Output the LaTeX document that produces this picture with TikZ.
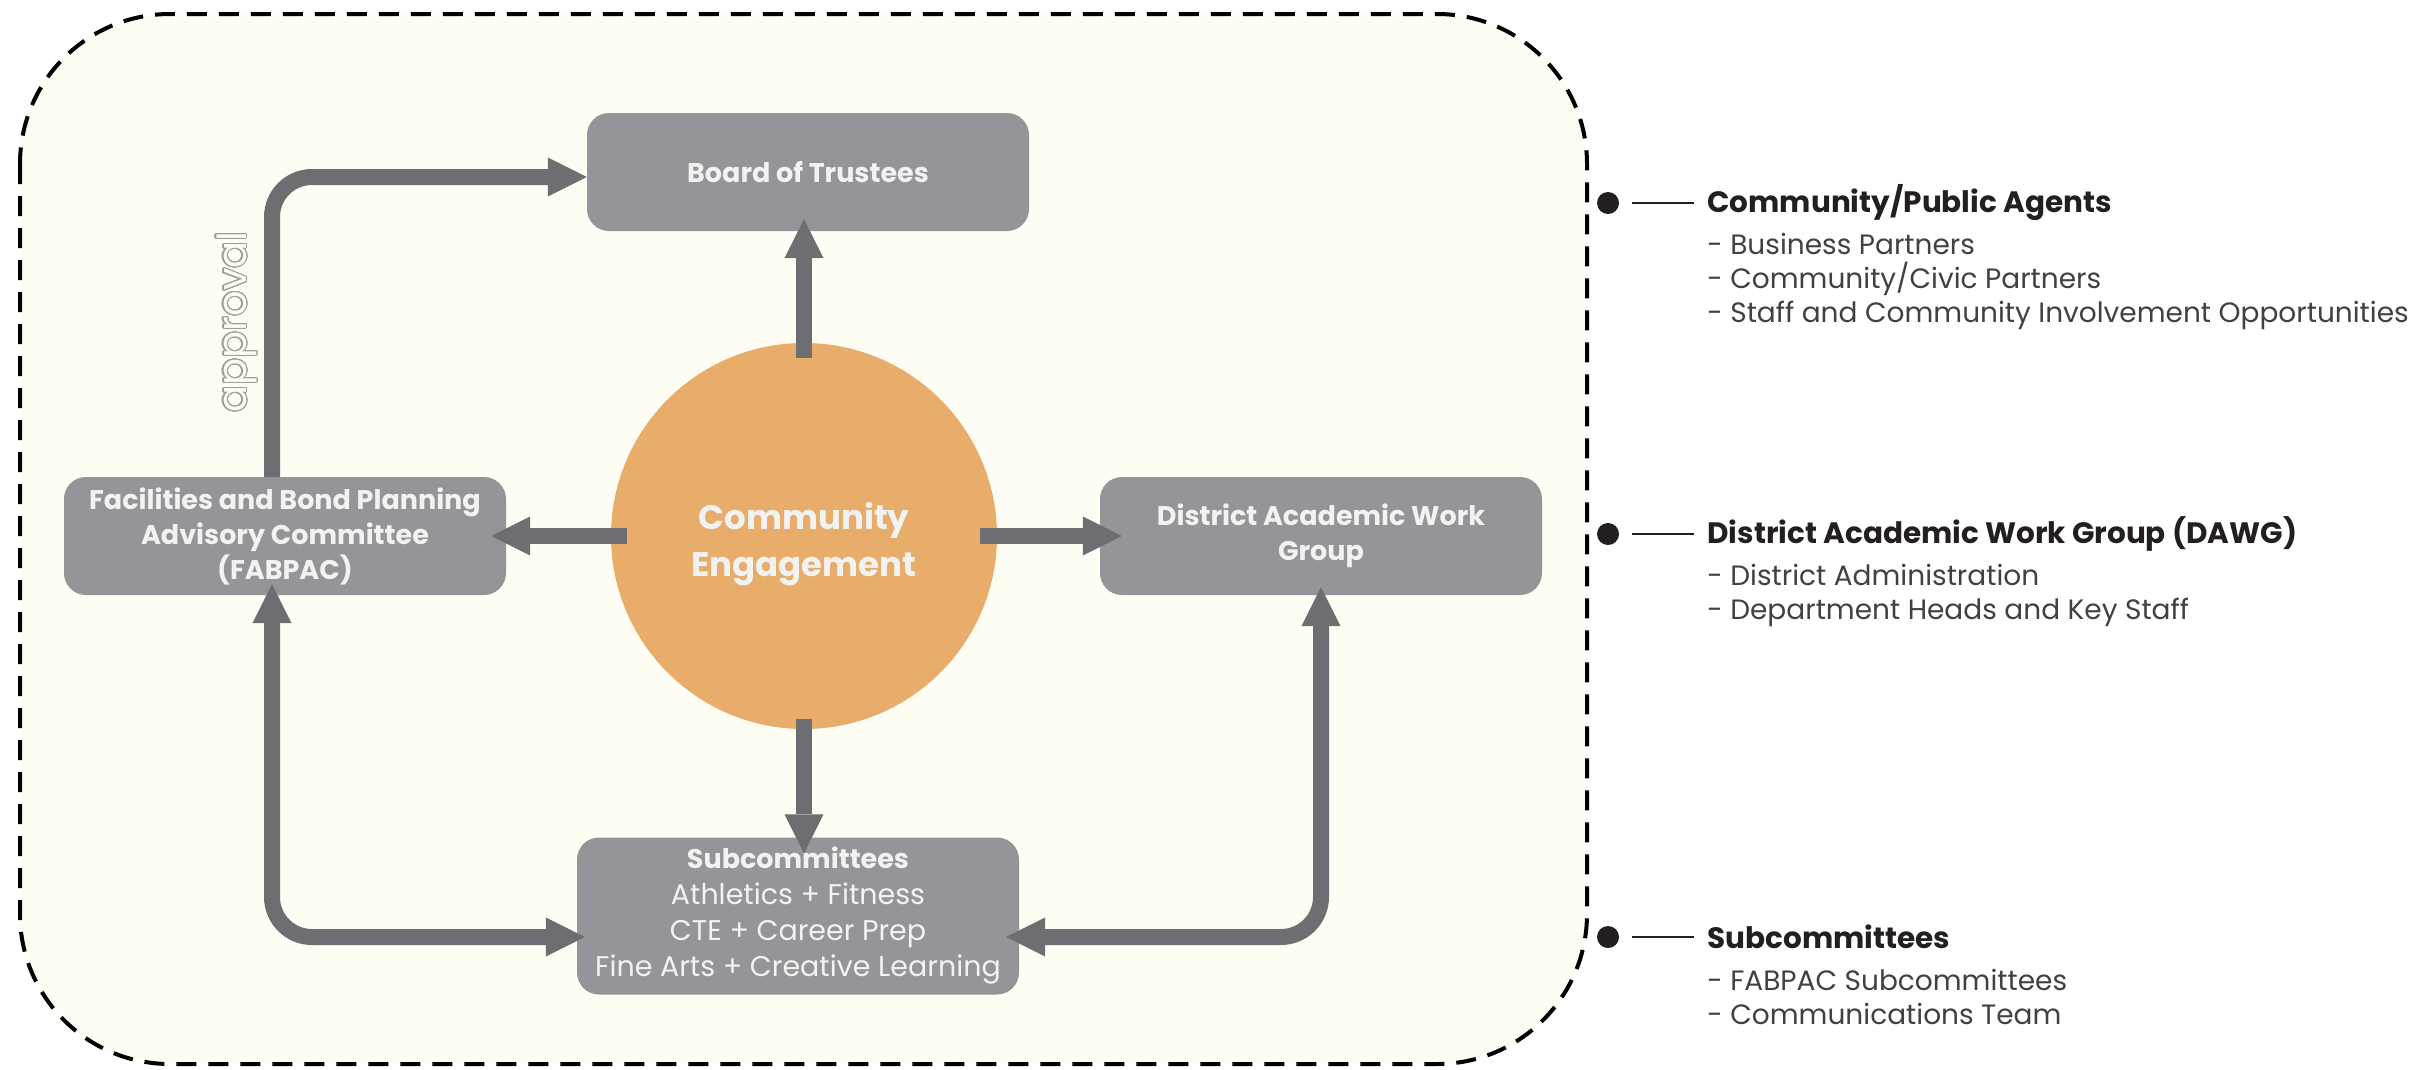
\documentclass[tikz,border=0pt]{standalone}
\usepackage{fontspec}
\setmainfont{Poppins}
\usepackage{contour}
\usetikzlibrary{arrows.meta, positioning, shapes.geometric}

\definecolor{boxgray}{HTML}{939598}
\definecolor{arrowgray}{HTML}{6D6E71}
\definecolor{ceorange}{HTML}{E9AD6B}
\definecolor{cream}{HTML}{FDFDF3}
\definecolor{boxtext}{HTML}{F1F2F2}
\definecolor{legdark}{HTML}{231F20}
\definecolor{legtext}{HTML}{414042}

\contourlength{1.1pt}
\contournumber{24}

\tikzset{
  bigtip/.tip={Triangle[length=39pt, width=39pt, line width=0pt]},
  group/.style={fill=boxgray, rounded corners=22pt, minimum width=442pt, minimum height=118pt,
    text=boxtext, font=\fontsize{27}{35}\selectfont\bfseries, align=center, inner sep=0pt},
  flow/.style={draw=arrowgray, line width=16pt, -bigtip},
  flowboth/.style={draw=arrowgray, line width=16pt, bigtip-bigtip, rounded corners=40pt},
  dot/.style={circle, fill=legdark, minimum size=22pt, inner sep=0pt},
  legtitle/.style={font=\fontsize{29.5}{34}\selectfont\bfseries, text=legdark, inner sep=0pt},
  legitems/.style={font=\fontsize{28}{34}\selectfont, text=legtext, align=left, inner sep=0pt, anchor=north west},
}
\newcommand\subline[1]{{\fontsize{28.5}{36}\selectfont\mdseries #1}}

\begin{document}
\begin{tikzpicture}[x=1pt, y=-1pt]
\useasboundingbox[fill=white] (0,0) rectangle (2433,1069);
% frame
\draw[line width=4pt, dash pattern=on 20pt off 12pt, fill=cream, rounded corners=150pt] (20,14) rectangle (1587,1064);

% groups
\node[group] (board) at (808,172) {Board of Trustees};
\node[circle, fill=ceorange, minimum size=386pt, inner sep=0pt] (ce) at (804,536) {};
\node[text=boxtext, font=\fontsize{34}{46.5}\selectfont\bfseries, align=center] (cetext) at ([yshift=-8pt]ce.center) {Community\\Engagement};
\node[group] (fab) at (285,536) {Facilities and Bond Planning\\Advisory Committee\\(FABPAC)};
\node[group] (dawg) at (1321,536) {District Academic Work\\Group};
\node[group, minimum height=157pt, font=\fontsize{27}{36}\selectfont\bfseries] (sub) at (798,916) {Subcommittees\\\subline{Athletics + Fitness}\\\subline{CTE + Career Prep}\\\subline{Fine Arts + Creative Learning}};

% arrows
\draw[flow] ([yshift=-15pt]ce.north) -- ([yshift=12pt]ce.north |- board.south);
\draw[flow] ([xshift=16pt]ce.west) -- ([xshift=-15pt]fab.east);
\draw[flow] ([xshift=-17pt]ce.east) -- ([xshift=22pt]dawg.west);
\draw[flow] ([yshift=10pt]ce.south) -- ([yshift=-16pt]ce.south |- sub.north);
\draw[flow, rounded corners=40pt] ([xshift=-13pt]fab.north) |- ([yshift=-5pt]board.west);
\draw[flowboth] ([xshift=-13pt,yshift=11pt]fab.south) |- ([xshift=8pt,yshift=-21pt]sub.west);
\draw[flowboth] ([yshift=8pt]dawg.south) |- ([xshift=-13pt,yshift=-21pt]sub.east);
\node[rotate=90, font=\fontsize{40}{40}\selectfont] (appr) at (237,322) {\contour{gray!75}{\textcolor{cream}{approval}}};

% legend
\node[dot] (d1) at (1608,203) {};
\node[legtitle, right=88pt of d1] (t1) {Community/Public Agents};
\node[below=12pt of t1.south west, legitems] (l1) {- Business Partners\\- Community/Civic Partners\\- Staff and Community Involvement Opportunities};
\draw[legdark, line width=2pt] ([xshift=13pt]d1.east) -- ([xshift=-13pt]t1.west);

\node[dot] (d2) at (1608,534) {};
\node[legtitle, right=88pt of d2] (t2) {District Academic Work Group (DAWG)};
\node[below=12pt of t2.south west, legitems] (l2) {- District Administration\\- Department Heads and Key Staff};
\draw[legdark, line width=2pt] ([xshift=13pt]d2.east) -- ([xshift=-13pt]t2.west);

\node[dot] (d3) at (1608,937) {};
\node[legtitle, right=88pt of d3] (t3) {Subcommittees};
\node[below=20pt of t3.south west, legitems] (l3) {- FABPAC Subcommittees\\- Communications Team};
\draw[legdark, line width=2pt] ([xshift=13pt]d3.east) -- ([xshift=-13pt]t3.west);
\end{tikzpicture}
\end{document}
